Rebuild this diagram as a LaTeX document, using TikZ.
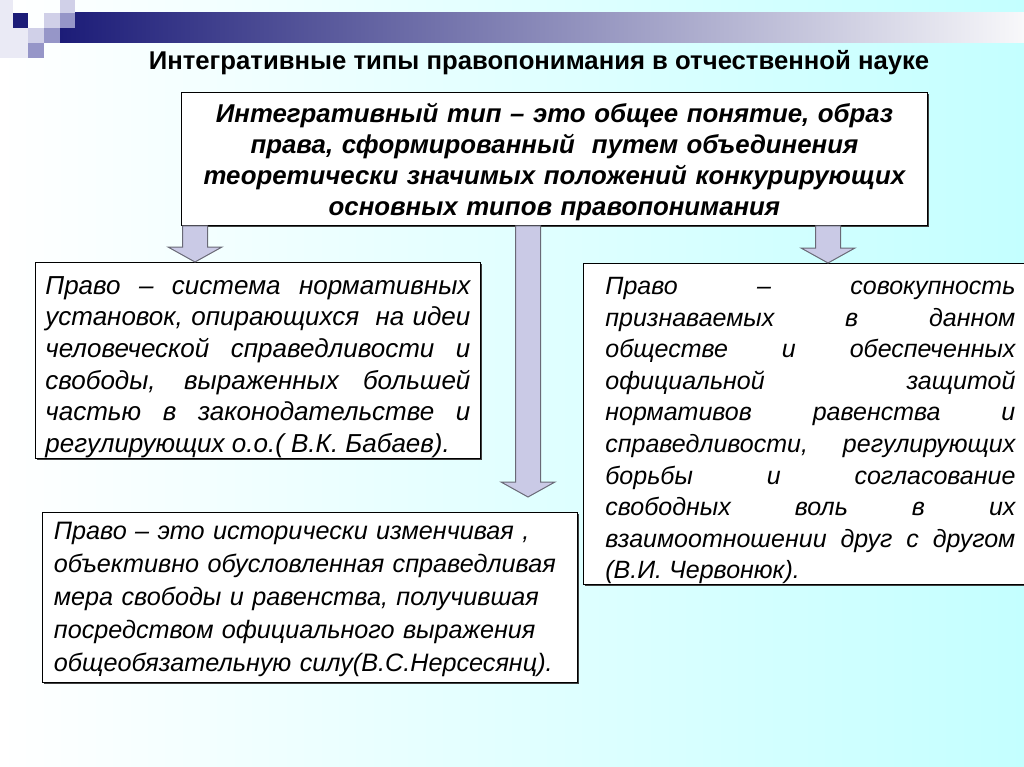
\documentclass[tikz,border=0pt]{standalone}
\usepackage{fontspec}
\setmainfont{Liberation Sans}
\usetikzlibrary{calc,positioning,shadows}
\definecolor{navydeep}{RGB}{28,28,120}
\definecolor{navymid}{RGB}{168,166,192}
\definecolor{barlight}{RGB}{248,248,250}
\definecolor{lavlight}{RGB}{208,208,232}
\definecolor{lavmid}{RGB}{150,150,200}
\definecolor{bgcyan}{RGB}{196,255,255}
\definecolor{arrowfill}{RGB}{202,202,230}
\definecolor{arrowline}{RGB}{105,105,118}

% block arrow pointing down: #1 start, #2 tip
\newcommand{\blockdown}[2]{%
	\path[blockarrow] ($(#1)+(-12.5,0)$) -- ($(#2)+(-12.5,-15)$) -- ($(#2)+(-27,-15)$)
		-- (#2) -- ($(#2)+(27,-15)$) -- ($(#2)+(12.5,-15)$) -- ($(#1)+(12.5,0)$) -- cycle;}
% taller first line, pushes the text down
\newcommand{\firstline}[1]{\rule{0pt}{#1}}

\begin{document}
\begin{tikzpicture}[x=1pt,y=-1pt,
		tbox/.style={draw=black, thick, fill=white, anchor=north west, inner ysep=0,
			drop shadow={shadow xshift=2pt, shadow yshift=-2pt, fill=black!75, opacity=1},
			font=\fontsize{25}{31.6}\selectfont\itshape},
		blockarrow/.style={draw=arrowline, fill=arrowfill, line width=1pt},
		ttl/.style={font=\fontsize{25.7}{30}\selectfont\bfseries}
	]
		\useasboundingbox (0,0) rectangle (1024,767);
		% background and header bar
		\shade[left color=white, right color=bgcyan] (0,0) rectangle (1024,767);
		\shade[left color=navydeep, middle color=navymid, right color=barlight] (60,13) rectangle (1024,43);
		\fill[lavlight!45] (0,0) rectangle (13,58);
		\fill[lavlight!45] (13,28) rectangle (28,58);
		\fill[navydeep] (13,13) rectangle (28,28);
		\fill[lavlight] (28,28) rectangle (44,43);
		\fill[lavmid] (28,43) rectangle (44,58);
		\fill[lavlight] (44,13) rectangle (60,28);
		\fill[lavmid] (44,28) rectangle (60,43);
		\fill[lavlight] (60,0) rectangle (75,13);
		\fill[lavmid] (60,13) rectangle (75,28);

		\node[ttl] (title) at (539,63) {Интегративные типы правопонимания в отчественной науке};

		\node[tbox, font=\fontsize{25.8}{31}\selectfont\bfseries\itshape, align=center,
			text width=726, inner xsep=10, minimum height=133] (top) at (181,92)
			{\firstline{25pt}Интегративный тип – это общее понятие, образ\\
			права, сформированный \ путем объединения\\
			теоретически значимых положений конкурирующих\\
			основных типов правопонимания};

		\node[tbox, font=\fontsize{26}{31.6}\selectfont\itshape, text width=425, inner xsep=10,
			minimum height=196, align=justify] (left) at (35,262)
			{\firstline{31pt}Право – система нормативных\linebreak
			установок, опирающихся \ на идеи\linebreak
			человеческой справедливости и\linebreak
			свободы, выраженных большей\linebreak
			частью в законодательстве и\linebreak
			регулирующих о.о.( В.К. Бабаев).};

		\node[tbox, text width=512, inner xsep=11.5, minimum height=170, align=left,
			font=\fontsize{25.2}{33}\selectfont\itshape] (bottom) at (42,512)
			{\firstline{22pt}Право – это исторически изменчивая ,\\
			объективно обусловленная справедливая\\
			мера свободы и равенства, получившая\\
			посредством официального выражения\\
			общеобязательную силу(В.С.Нерсесянц).};

		\node[tbox, text width=410, inner xsep=22, minimum height=320, align=justify] (right) at (583,263)
			{\firstline{31pt}Право – совокупность\linebreak
			признаваемых в данном\linebreak
			обществе и обеспеченных\linebreak
			официальной защитой\linebreak
			нормативов равенства и\linebreak
			справедливости, регулирующих\linebreak
			борьбы и согласование\linebreak
			свободных воль в их\linebreak
			взаимоотношении друг с другом\linebreak
			(В.И. Червонюк).};

		% arrows
		\coordinate (aLs) at (top.south -| 195,0);
		\coordinate (aLt) at (aLs |- left.north);
		\coordinate (aMs) at (top.south -| 528,0);
		\coordinate (aMt) at (528,497);
		\coordinate (aRs) at (top.south -| 828,0);
		\coordinate (aRt) at (aRs |- right.north);
		\blockdown{aLs}{aLt}
		\blockdown{aMs}{aMt}
		\blockdown{aRs}{aRt}
	\end{tikzpicture}
\end{document}
